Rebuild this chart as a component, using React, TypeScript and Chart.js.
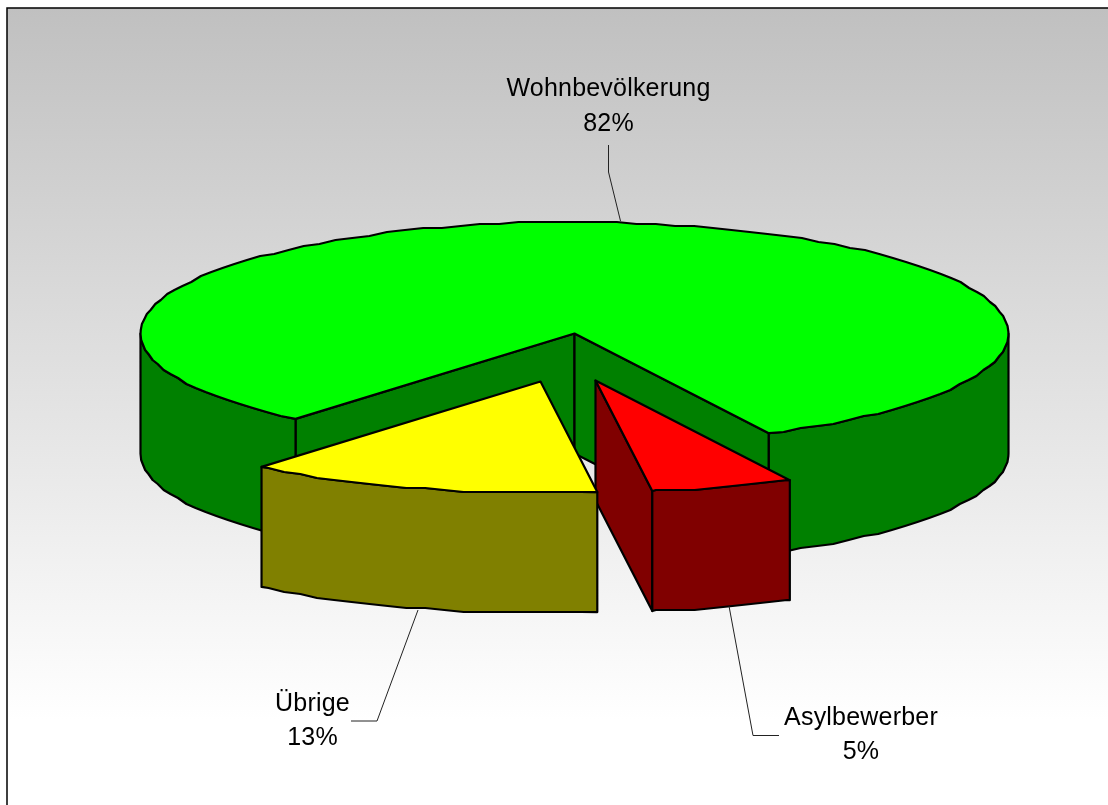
import React, { useEffect, useRef } from "react";
import { Chart, registerables } from "chart.js";

Chart.register(...registerables);

const categories = ["Wohnbevölkerung", "Asylbewerber", "Übrige"];
const shares = [81.5, 5.3, 13.2];
const topColors = ["#00ff00", "#ff0000", "#ffff00"];
const wallColors = ["#008000", "#800000", "#808000"];

const FONT = '25px "Liberation Sans", Arial, sans-serif';
const W = 1108;
const H = 805;
const RADIUS = 434;
const SQUASH = 111.5 / 434;
const DEPTH = 120;
const STEP = (2.6 * Math.PI) / 180;
const SNAP = 2;
const explodeX = [0, 21, -34];
const explodeY = [0, 47, 48];

const labelLayout = [
  { x: 608.5, y1: 96, y2: 131, leader: [[608.5, 145], [608.5, 172], [620.5, 221]] },
  { x: 861, y1: 725, y2: 759, leader: [[729, 606], [753, 735.5], [779, 735.5]] },
  { x: 312.5, y1: 711, y2: 745, leader: [[418, 610], [377, 721], [351, 721]] },
];

const snap = (v: number) => Math.round(v / SNAP) * SNAP;

// The rim as the slightly coarse polygon the original renderer produced.
function rim(cx: number, cy: number, r: number, a0: number, a1: number) {
  const pts: [number, number][] = [[cx + r * Math.cos(a0), cy + r * SQUASH * Math.sin(a0)]];
  const first = Math.ceil(a0 / STEP + 1e-6);
  for (let n = first; n * STEP < a1 - 1e-6; n++) {
    const a = n * STEP;
    pts.push([cx + r * Math.cos(a), snap(cy + r * SQUASH * Math.sin(a))]);
  }
  pts.push([cx + r * Math.cos(a1), cy + r * SQUASH * Math.sin(a1)]);
  return pts;
}

const pie3d = {
  id: "pie3d",
  beforeDraw(chart: any) {
    const { ctx } = chart;
    const g = ctx.createLinearGradient(0, 8, 0, 720);
    g.addColorStop(0, "#c0c0c0");
    g.addColorStop(1, "#ffffff");
    ctx.save();
    ctx.fillStyle = g;
    ctx.fillRect(7, 8, W - 7, H - 8);
    ctx.strokeStyle = "#000000";
    ctx.lineWidth = 1.5;
    ctx.beginPath();
    ctx.moveTo(7, H);
    ctx.lineTo(7, 8);
    ctx.lineTo(W, 8);
    ctx.stroke();
    ctx.restore();
  },
  beforeDatasetsDraw(chart: any) {
    const { ctx } = chart;
    const arcs = chart.getDatasetMeta(0).data;
    arcs.forEach((arc: any, i: number) => {
      const cx = arc.x + explodeX[i];
      const cy = arc.y + explodeY[i];
      const s = arc.startAngle;
      const e = arc.endAngle;
      const r = arc.outerRadius;
      const px = (a: number) => cx + r * Math.cos(a);
      const py = (a: number) => cy + r * SQUASH * Math.sin(a);

      ctx.save();
      ctx.lineWidth = 2.2;
      ctx.lineJoin = "round";
      ctx.strokeStyle = "#000000";
      ctx.fillStyle = wallColors[i];

      // cut faces that look towards the viewer
      const face = (a: number) => {
        ctx.beginPath();
        ctx.moveTo(cx, cy);
        ctx.lineTo(px(a), py(a));
        ctx.lineTo(px(a), py(a) + DEPTH);
        ctx.lineTo(cx, cy + DEPTH);
        ctx.closePath();
        ctx.fill();
        ctx.stroke();
      };
      if (Math.cos(s) < 0) face(s);
      if (Math.cos(e) > 0) face(e);

      // outer rim, front half only
      for (let k = 0; k < 2; k++) {
        const a0 = Math.max(s, 2 * Math.PI * k);
        const a1 = Math.min(e, 2 * Math.PI * k + Math.PI);
        if (a1 <= a0) continue;
        const pts = rim(cx, cy, r, a0, a1);
        ctx.beginPath();
        pts.forEach(([x, y], j) => (j ? ctx.lineTo(x, y) : ctx.moveTo(x, y)));
        pts
          .slice()
          .reverse()
          .forEach(([x, y]) => ctx.lineTo(x, y + DEPTH));
        ctx.closePath();
        ctx.fill();
        ctx.stroke();
      }

      // top face, from the library's arc geometry and colour
      ctx.fillStyle = arc.options.backgroundColor;
      ctx.beginPath();
      ctx.moveTo(cx, cy);
      rim(cx, cy, r, s, e).forEach(([x, y]) => ctx.lineTo(x, y));
      ctx.closePath();
      ctx.fill();
      ctx.stroke();
      ctx.restore();
    });

    ctx.save();
    ctx.strokeStyle = "#222222";
    ctx.lineWidth = 1;
    ctx.fillStyle = "#000000";
    ctx.font = FONT;
    ctx.letterSpacing = "0.2px";
    ctx.textAlign = "center";
    ctx.textBaseline = "alphabetic";
    const total = shares.reduce((a, b) => a + b, 0);
    categories.forEach((name, i) => {
      const l = labelLayout[i];
      ctx.beginPath();
      l.leader.forEach(([x, y], j) => (j ? ctx.lineTo(x, y) : ctx.moveTo(x, y)));
      ctx.stroke();
      ctx.fillText(name, l.x, l.y1);
      ctx.fillText(`${Math.round((shares[i] / total) * 100)}%`, l.x, l.y2);
    });
    ctx.restore();
    return false;
  },
};

export default function App() {
  const ref = useRef<HTMLCanvasElement>(null);
  useEffect(() => {
    const chart = new Chart(ref.current as HTMLCanvasElement, {
      type: "pie",
      data: {
        labels: categories,
        datasets: [
          {
            data: shares,
            backgroundColor: topColors,
            borderWidth: 0,
          },
        ],
      },
      options: {
        animation: false,
        responsive: false,
        rotation: 220,
        radius: RADIUS,
        layout: { padding: { left: 41, bottom: 138 } },
        plugins: { legend: { display: false }, tooltip: { enabled: false }, title: { display: false } },
      },
      plugins: [pie3d],
    } as any);
    return () => chart.destroy();
  }, []);
  return (
    <canvas
      ref={ref}
      width={W}
      height={H}
      style={{ position: "absolute", left: 0, top: 0, display: "block" }}
    />
  );
}
